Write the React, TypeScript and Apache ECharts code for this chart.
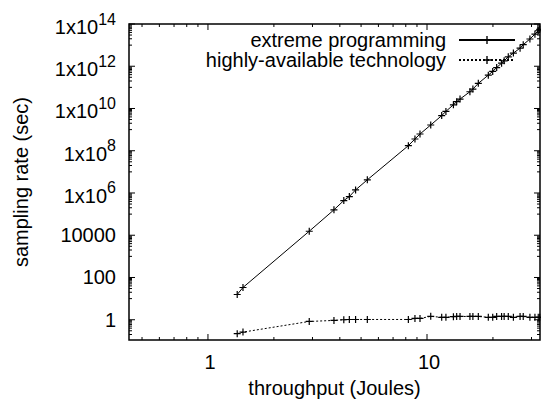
import React, { useEffect, useRef } from "react";
import * as echarts from "echarts";

const FONT = '"Liberation Sans", Arial, Helvetica, sans-serif';

const X_MIN = 0.436;
const X_MAX = 32.8;
const Y_MIN = 0.11;
const Y_MAX = 1e14;

const xValues = [
  1.36, 1.445, 2.9, 3.76, 4.17, 4.42, 4.72, 5.34, 8.22, 8.81, 9.29, 10.4, 11.67, 12.2, 13.2,
  13.66, 14.15, 15.7, 16.2, 17.15, 19.05, 19.95, 20.8, 21.9, 22.5, 23.5, 24.8, 26.6, 27.5,
  29.5, 31.1, 32.2, 32.7,
];
const extremeProgramming = [
  15.7, 33.7, 1.55e4, 1.6e5, 4.4e5, 6.8e5, 1.4e6, 4.2e6, 1.74e8, 3.6e8, 6.2e8, 1.66e9, 4.6e9,
  7.3e9, 1.5e10, 2.1e10, 2.8e10, 6.2e10, 8.3e10, 1.55e11, 3.8e11, 5.7e11, 8.7e11, 1.4e12,
  1.8e12, 2.8e12, 4.2e12, 7.2e12, 1.05e13, 1.95e13, 3.3e13, 4.8e13, 5.6e13,
];
const highlyAvailable = [
  0.22, 0.26, 0.83, 0.93, 1.0, 1.03, 1.03, 1.03, 1.03, 1.15, 1.15, 1.45, 1.3, 1.3, 1.4, 1.43,
  1.43, 1.43, 1.43, 1.43, 1.3, 1.3, 1.43, 1.43, 1.43, 1.43, 1.3, 1.43, 1.43, 1.3, 1.3, 1.3, 1.3,
];

const seriesNames = ["extreme programming", "highly-available technology"];

const xMajorTicks = [1, 10];
const xMajorLabels = ["1", "10"];
const xMinorTicks = [0.5, 0.6, 0.7, 0.8, 0.9, 2, 3, 4, 5, 6, 7, 8, 9, 20, 30];

const yMajorTicks = [1, 100, 1e4, 1e6, 1e8, 1e10, 1e12, 1e14];
const yMajorLabels = ["1", "100", "10000", "1x10^6", "1x10^8", "1x10^10", "1x10^12", "1x10^14"];
const yMinorMantissas = [1, 2, 3, 4, 5, 6, 7, 8, 9];
const yMinorExponents = [-1, 1, 3, 5, 7, 9, 11, 13];

const PLUS = "path://M0,2.9H7V4.1H0Z M2.9,0H4.1V7H2.9Z";

export default function App() {
  const ref = useRef<HTMLDivElement>(null);

  useEffect(() => {
    if (!ref.current) return;
    const chart = echarts.init(ref.current, undefined, { renderer: "svg" });

    const yMinorTicks: number[] = [];
    yMinorExponents.forEach((e) => {
      yMinorMantissas.forEach((m) => {
        const v = m * Math.pow(10, e);
        if (v > Y_MIN && v < Y_MAX) yMinorTicks.push(v);
      });
    });

    const renderTicks = (params: any, api: any) => {
      if (params.dataIndex !== 0) return null;
      const children: any[] = [];
      const pt = (x: number, y: number) => api.coord([x, y]);
      const [left, bottom] = pt(X_MIN, Y_MIN);
      const [right, top] = pt(X_MAX, Y_MAX);
      const lineStyle = { stroke: "#000", lineWidth: 1 };
      const addX = (v: number, len: number) => {
        const xp = pt(v, Y_MIN)[0];
        children.push({ type: "line", shape: { x1: xp, y1: bottom, x2: xp, y2: bottom - len }, style: lineStyle });
        children.push({ type: "line", shape: { x1: xp, y1: top, x2: xp, y2: top + len }, style: lineStyle });
      };
      const addY = (v: number, len: number) => {
        const yp = pt(X_MIN, v)[1];
        children.push({ type: "line", shape: { x1: left, y1: yp, x2: left + len, y2: yp }, style: lineStyle });
        children.push({ type: "line", shape: { x1: right, y1: yp, x2: right - len, y2: yp }, style: lineStyle });
      };
      xMinorTicks.forEach((v) => addX(v, 3));
      yMinorTicks.forEach((v) => addY(v, 3));
      xMajorTicks.forEach((v, i) => {
        addX(v, 6);
        const xp = pt(v, Y_MIN)[0];
        children.push({
          type: "text",
          x: xp + 2,
          y: bottom + 22,
          style: {
            text: xMajorLabels[i],
            fill: "#000",
            fontSize: 20,
            fontFamily: FONT,
            align: "center",
            verticalAlign: "middle",
          },
        });
      });
      yMajorTicks.forEach((v, i) => {
        addY(v, 6);
        const yp = pt(X_MIN, v)[1];
        const lab = yMajorLabels[i];
        const parts = lab.split("^");
        const style: any = {
          fill: "#000",
          fontSize: 20,
          fontFamily: FONT,
          align: "right",
          verticalAlign: "middle",
        };
        if (parts.length === 2) {
          style.text = `{b|${parts[0]}}{s|${parts[1]}}`;
          style.rich = {
            b: { fontSize: 20, fontFamily: FONT, fill: "#000", verticalAlign: "bottom", padding: [6, 0, 0, 0] },
            s: { fontSize: 16, fontFamily: FONT, fill: "#000", verticalAlign: "top" },
          };
        } else {
          style.text = lab;
        }
        children.push({ type: "text", x: left - 13, y: yp, style });
      });
      return { type: "group", children };
    };

    chart.setOption({
      animation: false,
      backgroundColor: "#fff",
      grid: {
        left: 129,
        right: 1,
        top: 24,
        bottom: 63,
        show: true,
        borderColor: "#000",
        borderWidth: 1.5,
        backgroundColor: "transparent",
        containLabel: false,
        outerBoundsMode: "none",
      },
      legend: {
        orient: "vertical",
        right: 25,
        top: 30,
        padding: 0,
        itemGap: 0,
        itemWidth: 56,
        itemHeight: 10,
        align: "right",
        textStyle: { fontSize: 20, color: "#000", fontFamily: FONT, padding: [0, 8, 0, 0] },
        data: seriesNames,
      },
      xAxis: {
        type: "log",
        min: X_MIN,
        max: X_MAX,
        name: "throughput (Joules)",
        nameLocation: "middle",
        nameGap: 38,
        nameTextStyle: { fontSize: 20, color: "#000", fontFamily: FONT },
        axisLine: { show: false },
        axisTick: { show: false },
        axisLabel: { show: false },
        splitLine: { show: false },
      },
      yAxis: {
        type: "log",
        min: Y_MIN,
        max: Y_MAX,
        name: "sampling rate (sec)",
        nameLocation: "middle",
        nameGap: 98,
        nameTextStyle: { fontSize: 20, color: "#000", fontFamily: FONT },
        axisLine: { show: false },
        axisTick: { show: false },
        axisLabel: { show: false },
        splitLine: { show: false },
      },
      series: [
        {
          name: seriesNames[0],
          type: "line",
          data: xValues.map((x, i) => [x, extremeProgramming[i]]),
          symbol: PLUS,
          symbolSize: 7,
          showAllSymbol: true,
          itemStyle: { color: "#000" },
          lineStyle: { color: "#000", width: 1 },
          z: 3,
        },
        {
          name: seriesNames[1],
          type: "line",
          data: xValues.map((x, i) => [x, highlyAvailable[i]]),
          symbol: PLUS,
          symbolSize: 7,
          showAllSymbol: true,
          itemStyle: { color: "#000" },
          lineStyle: { color: "#000", width: 1, type: [2, 2] },
          z: 3,
        },
        {
          type: "custom",
          renderItem: renderTicks,
          data: [[1, 1]],
          silent: true,
          clip: false,
          z: 4,
        },
      ],
    });

    return () => chart.dispose();
  }, []);

  return (
    <div
      ref={ref}
      style={{ position: "fixed", left: 0, top: 0, width: 541, height: 403, background: "#fff" }}
    />
  );
}
